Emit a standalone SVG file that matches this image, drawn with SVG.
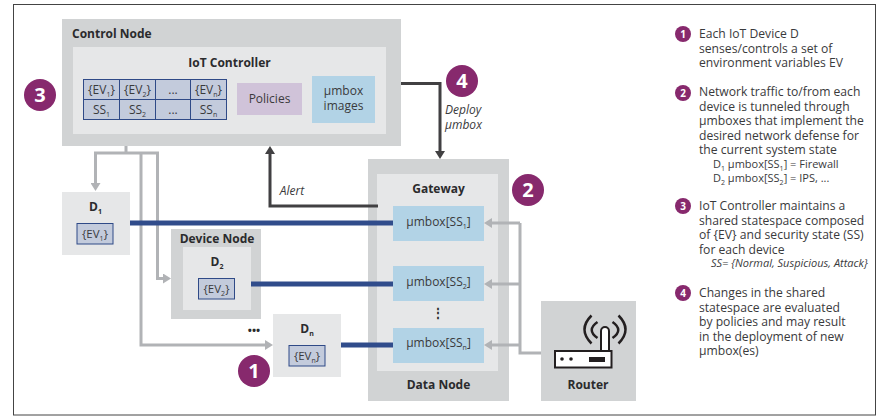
<svg xmlns="http://www.w3.org/2000/svg" width="877" height="417" viewBox="0 0 877 417">
<defs>
<marker id="ag" markerUnits="userSpaceOnUse" markerWidth="11" markerHeight="10" refX="5" refY="5" orient="auto"><path d="M1 0L9 5L1 10z" fill="#b1b3b6"/></marker>
<marker id="ad" markerUnits="userSpaceOnUse" markerWidth="11" markerHeight="10" refX="5" refY="5" orient="auto"><path d="M1 0L9 5L1 10z" fill="#414042"/></marker>
</defs>
<style>
text{font-family:"Open Sans","Noto Sans",sans-serif;fill:#3a3a3c;font-size:12px}
.b{font-weight:700;fill:#2b2b2d}
.m{text-anchor:middle}
.g{fill:#d1d3d4}.l{fill:#e6e7e8}.u{fill:#b2d3e6}
.c{fill:#c3cbdc;stroke:#2f4a87;stroke-width:1}
.s{font-size:7px;baseline-shift:-3px}
.h{fill:none;stroke:#b1b3b6;stroke-width:3}
.k{fill:none;stroke:#414042;stroke-width:3}
.n{fill:none;stroke:#304c8b;stroke-width:5}
.o{fill:#87296d}
.w{fill:#fff;font-weight:700;text-anchor:middle}
.a{font-size:20px}.q{font-size:10px}
.r{font-size:11px}
.i{font-style:italic}
.t{font-size:12.15px}
.d{font-size:12px}
.e{font-size:11.5px}
</style>
<rect x="13.5" y="4.500" width="862" height="410.500" fill="#fff" stroke="#444" stroke-width="1"/>

<g id="control-node">
<rect class="g" x="62" y="19" width="339" height="127"/>
<text class="b" x="72" y="38">Control Node</text>
</g>
<g id="iot-controller">
<rect class="l" x="73" y="47" width="313" height="87"/>
<text class="b m" x="229.500" y="67">IoT Controller</text>
<g id="state-table">
<rect class="c" x="83.500" y="79.500" width="36" height="20"/><rect class="c" x="119.500" y="79.500" width="36" height="20"/><rect class="c" x="155.500" y="79.500" width="35" height="20"/><rect class="c" x="190.500" y="79.500" width="36" height="20"/>
<rect class="c" x="83.500" y="99.500" width="36" height="20"/><rect class="c" x="119.500" y="99.500" width="36" height="20"/><rect class="c" x="155.500" y="99.500" width="35" height="20"/><rect class="c" x="190.500" y="99.500" width="36" height="20"/>
<text class="m" x="101.500" y="94">{EV<tspan class="s">1</tspan>}</text>
<text class="m" x="137.500" y="94">{EV<tspan class="s">2</tspan>}</text>
<text class="m" x="173" y="94">...</text>
<text class="m" x="208.500" y="94">{EV<tspan class="s">n</tspan>}</text>
<text class="m" x="101.500" y="114">SS<tspan class="s">1</tspan></text>
<text class="m" x="137.500" y="114">SS<tspan class="s">2</tspan></text>
<text class="m" x="173" y="114">...</text>
<text class="m" x="208.500" y="114">SS<tspan class="s">n</tspan></text>
</g>
<g id="policies"><rect x="237" y="83" width="65" height="32" fill="#d0c3d9"/><text class="m" x="269.500" y="103">Policies</text></g>
<g id="umbox-images"><rect class="u" x="312" y="76" width="63" height="47"/><text class="m" x="343.500" y="95">µmbox</text><text class="m" x="343.500" y="110">images</text></g>
</g>

<g id="d1"><rect class="l" x="62" y="192" width="68" height="63"/>
<text class="b m d" x="95.500" y="211">D<tspan class="s">1</tspan></text>
<rect class="c" x="77" y="223.500" width="36" height="20.500"/><text class="m e" x="95" y="238">{EV<tspan class="s">1</tspan>}</text></g>

<g id="device-node"><rect class="g" x="171" y="229" width="90" height="90"/>
<text class="b m" x="217" y="243">Device Node</text>
<rect class="l" x="183" y="247" width="68" height="63"/>
<text class="b m d" x="217" y="266">D<tspan class="s">2</tspan></text>
<rect class="c" x="198.500" y="278.500" width="36" height="20.500"/><text class="m e" x="216.500" y="293">{EV<tspan class="s">2</tspan>}</text></g>

<g id="dn"><rect class="l" x="273" y="314" width="68" height="63"/>
<text class="b m d" x="307" y="333">D<tspan class="s">n</tspan></text>
<rect class="c" x="289" y="345.500" width="36" height="20.500"/><text class="m e" x="307" y="360">{EV<tspan class="s">n</tspan>}</text>
</g>
<text id="device-dots" class="b m" x="254" y="334" style="font-size:11px">•••</text>

<g id="data-node"><rect class="g" x="368" y="159" width="141" height="242"/>
<rect class="l" x="377" y="174" width="121" height="197"/>
<text class="b m" x="438.500" y="193">Gateway</text>
<text class="b m" x="438.500" y="389">Data Node</text>
<g id="umbox-1"><rect class="u" x="393" y="206" width="91" height="35"/><text class="m" x="438.500" y="226">µmbox[SS<tspan class="s">1</tspan>]</text></g>
<g id="umbox-2"><rect class="u" x="393" y="266" width="91" height="35"/><text class="m" x="438.500" y="286">µmbox[SS<tspan class="s">2</tspan>]</text></g>
<text class="b m" x="438" y="317" id="gateway-dots">⋮</text>
<g id="umbox-n"><rect class="u" x="393" y="328" width="91" height="35"/><text class="m" x="438.500" y="347">µmbox[SS<tspan class="s">n</tspan>]</text></g>
</g>

<g id="router"><rect class="g" x="541" y="301" width="95" height="100"/>
<text class="b m" x="588" y="389">Router</text>
<path d="M601 351V331a4 4 0 0 1 8 0V351" fill="#fff" stroke="#231f20" stroke-width="2"/>
<rect x="555" y="351" width="56.500" height="16.500" fill="#fff" stroke="#231f20" stroke-width="2"/>
<circle cx="562" cy="359" r="1.800" fill="#231f20"/><circle cx="571" cy="359" r="1.800" fill="#231f20"/>
<rect x="589" y="357" width="16" height="5" fill="#231f20"/>
<g fill="none" stroke="#231f20" stroke-width="2.500"><path d="M591.500 315.500Q577.500 329.500 591.500 343.500"/><path d="M597.500 322Q586 330 597.500 338"/><path d="M618.500 315.500Q632.500 329.500 618.500 343.500"/><path d="M612.500 322Q624 330 612.500 338"/></g>
</g>

<g id="connectors">
<path class="h" d="M126 146V153"/>
<path class="h" marker-end="url(#ag)" d="M159 153H95.500V187"/>
<path class="h" marker-end="url(#ag)" d="M157.500 153V278.500H167"/>
<path class="h" marker-end="url(#ag)" d="M141 153V345H269"/>
<path class="n" d="M130 223H393M251 284H393M341 345H393"/>
<path class="k" marker-end="url(#ad)" d="M401 83.500H440V155"/>
<path class="k" marker-end="url(#ad)" d="M378 206H270V150"/>
<path class="h" d="M541 353H520V223"/>
<path class="h" marker-end="url(#ag)" d="M520 223H488"/>
<path class="h" marker-end="url(#ag)" d="M520 284H488"/>
<path class="h" marker-end="url(#ag)" d="M520 345H488"/>
</g>
<text class="i m" x="292" y="195">Alert</text>
<text class="i" x="445" y="114">Deploy</text>
<text class="i" x="445" y="129">µmbox</text>

<g id="badge-3"><circle class="o" cx="40" cy="95" r="16"/><text class="w a" x="40" y="102">3</text></g>
<g id="badge-4"><circle class="o" cx="462" cy="81" r="16"/><text class="w a" x="462" y="88">4</text></g>
<g id="badge-2"><circle class="o" cx="528" cy="190" r="16"/><text class="w a" x="528" y="197">2</text></g>
<g id="badge-1"><circle class="o" cx="254" cy="371" r="16"/><text class="w a" x="254" y="378">1</text></g>

<g id="legend">
<circle class="o" cx="683" cy="34" r="8"/><text class="w q" x="683" y="38">1</text>
<g class="lt">
<text class="t" x="699" y="38">Each IoT Device D</text><text class="t" x="699" y="52.500">senses/controls a set of</text><text class="t" x="699" y="67">environment variables EV</text>
</g>
<circle class="o" cx="683" cy="93" r="8"/><text class="w q" x="683" y="97">2</text>
<text class="t" x="699" y="96">Network traffic to/from each</text><text class="t" x="699" y="110.500">device is tunneled through</text><text class="t" x="699" y="125">µmboxes that implement the</text><text class="t" x="699" y="139.500">desired network defense for</text><text class="t" x="699" y="154">the current system state</text>
<text class="r" x="713" y="168">D<tspan class="s">1</tspan> µmbox[SS<tspan class="s">1</tspan>] = Firewall</text>
<text class="r" x="713" y="182">D<tspan class="s">2</tspan> µmbox[SS<tspan class="s">2</tspan>] = IPS, ...</text>
<circle class="o" cx="683" cy="206" r="8"/><text class="w q" x="683" y="210">3</text>
<text class="t" x="699" y="210">IoT Controller maintains a</text><text class="t" x="699" y="224.500">shared statespace composed</text><text class="t" x="699" y="239">of {EV} and security state (SS)</text><text class="t" x="699" y="253.500">for each device</text>
<text class="r i" x="711" y="267">SS= {Normal, Suspicious, Attack}</text>
<circle class="o" cx="683" cy="293" r="8"/><text class="w q" x="683" y="297">4</text>
<text class="t" x="699" y="297">Changes in the shared</text><text class="t" x="699" y="311.500">statespace are evaluated</text><text class="t" x="699" y="326">by policies and may result</text><text class="t" x="699" y="340.500">in the deployment of new</text><text class="t" x="699" y="355">µmbox(es)</text>
</g>
</svg>
